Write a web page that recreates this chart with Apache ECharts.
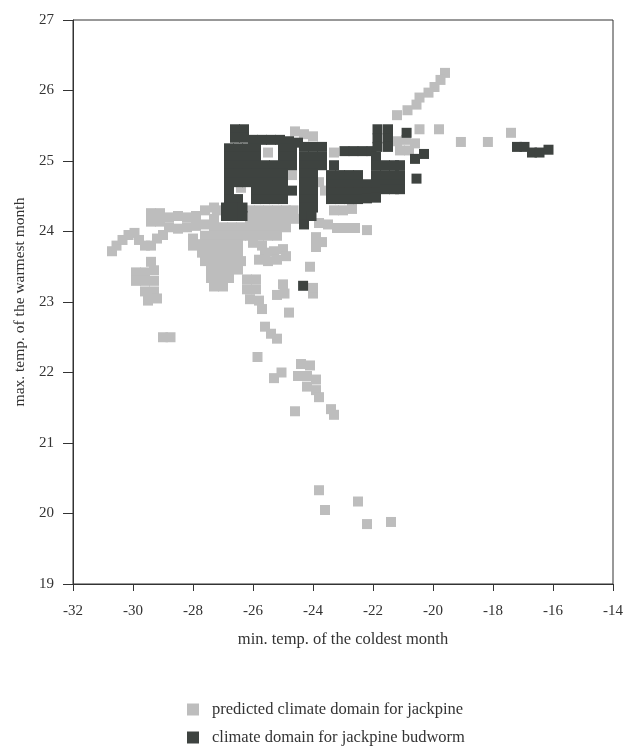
<!DOCTYPE html>
<html>
<head>
<meta charset="utf-8">
<script src="https://cdn.jsdelivr.net/npm/echarts@6/dist/echarts.min.js"></script>
<style>html,body{margin:0;padding:0;background:#fff}#c{width:627px;height:747px}</style>
</head>
<body>
<div id="c"></div>
<script>
const xTicks = [-32,-30,-28,-26,-24,-22,-20,-18,-16,-14];
const yTicks = [19,20,21,22,23,24,25,26,27];
const seriesNames = ['predicted climate domain for jackpine','climate domain for jackpine budworm'];
const xTitle = 'min. temp. of the coldest month';
const yTitle = 'max. temp. of the warmest month';

const lightPts = [
 [-19.6,26.25],[-19.75,26.15],[-19.95,26.05],[-20.15,25.97],[-20.45,25.9],[-20.55,25.8],[-20.85,25.72],[-21.2,25.65],
 [-20.45,25.45],[-19.8,25.45],[-19.07,25.27],[-18.17,25.27],[-17.4,25.4],
 [-21.2,25.28],[-20.9,25.3],[-20.6,25.25],[-21.1,25.15],[-20.8,25.15],
 [-24.6,25.42],[-24.3,25.38],[-24.0,25.35],[-23.3,25.12],
 [-23.8,24.7],[-23.6,24.58],[-24.7,24.8],[-25.5,25.12],[-26.4,24.62],
 [-23.3,24.3],[-23.0,24.3],[-22.7,24.32],
 [-23.8,24.12],[-23.5,24.1],[-23.2,24.05],[-22.9,24.05],[-22.6,24.05],[-22.2,24.02],
 [-23.9,23.92],[-23.7,23.85],[-23.9,23.78],
 [-27.2,24.3],[-26.1,24.3],[-25.8,24.3],[-25.5,24.3],[-25.2,24.3],[-24.9,24.3],[-24.65,24.3],
 [-27.3,24.18],[-26.1,24.18],[-25.8,24.18],[-25.5,24.18],[-25.2,24.18],[-24.9,24.18],[-24.6,24.18],
 [-27.3,24.06],[-27.0,24.06],[-26.7,24.06],[-26.4,24.06],[-26.1,24.06],[-25.8,24.06],[-25.5,24.06],[-25.2,24.06],[-24.9,24.06],
 [-27.6,23.94],[-27.3,23.94],[-27.0,23.94],[-26.7,23.94],[-26.4,23.94],[-26.1,23.94],[-25.8,23.94],[-25.5,23.94],[-25.2,23.94],
 [-29.4,24.26],[-29.1,24.26],[-29.4,24.14],[-29.1,24.14],[-28.8,24.2],[-28.5,24.22],[-28.2,24.2],[-27.9,24.22],
 [-28.8,24.06],[-28.5,24.04],[-28.2,24.06],[-27.9,24.08],[-27.6,24.1],[-27.6,24.3],[-27.3,24.34],
 [-28.0,23.9],[-28.0,23.8],
 [-30.7,23.72],[-30.55,23.8],[-30.35,23.88],[-30.15,23.95],[-29.95,23.98],[-29.8,23.88],[-29.6,23.8],[-29.4,23.8],[-29.2,23.9],[-29.0,23.95],
 [-27.7,23.82],[-27.4,23.82],[-27.1,23.82],[-26.8,23.82],[-26.5,23.82],[-26.0,23.84],[-25.7,23.8],
 [-27.7,23.7],[-27.4,23.7],[-27.1,23.7],[-26.8,23.7],[-26.5,23.7],[-25.6,23.7],[-25.3,23.72],[-25.0,23.75],
 [-27.6,23.58],[-27.3,23.58],[-27.0,23.58],[-26.7,23.58],[-26.4,23.58],[-25.8,23.6],[-25.5,23.58],[-25.2,23.6],[-24.9,23.65],
 [-27.4,23.46],[-27.1,23.46],[-26.8,23.46],[-26.5,23.46],
 [-27.4,23.34],[-27.1,23.34],[-26.8,23.34],[-26.2,23.32],[-25.9,23.32],
 [-27.3,23.22],[-27.0,23.22],[-26.2,23.18],[-25.9,23.18],[-25.0,23.25],[-24.95,23.12],[-25.2,23.1],
 [-26.1,23.04],[-25.8,23.02],[-25.7,22.9],[-24.8,22.85],
 [-29.4,23.57],[-29.9,23.42],[-29.6,23.42],[-29.3,23.45],[-29.9,23.3],[-29.6,23.3],[-29.3,23.3],[-29.6,23.15],[-29.3,23.15],[-29.5,23.02],[-29.2,23.05],
 [-29.0,22.5],[-28.75,22.5],
 [-24.1,23.5],[-24.0,23.12],[-24.0,23.2],
 [-25.6,22.65],[-25.4,22.55],[-25.2,22.48],[-25.85,22.22],[-25.3,21.92],[-25.05,22.0],
 [-24.4,22.12],[-24.1,22.1],[-24.5,21.95],[-24.2,21.95],[-23.9,21.9],[-24.2,21.8],[-23.9,21.75],[-23.8,21.65],
 [-24.6,21.45],[-23.4,21.48],[-23.3,21.4],
 [-23.8,20.33],[-23.6,20.05],[-22.5,20.17],[-22.2,19.85],[-21.4,19.88]
];

const darkPts = [
 [-26.6,25.45],[-26.3,25.45],
 [-26.6,25.33],[-26.3,25.33],[-26.0,25.3],[-25.7,25.3],[-25.4,25.3],[-25.1,25.3],[-24.8,25.28],[-24.5,25.26],
 [-26.8,25.18],[-26.5,25.18],[-26.2,25.18],[-25.9,25.18],[-25.0,25.18],[-24.7,25.18],[-24.3,25.2],[-24.0,25.2],[-23.7,25.2],
 [-26.8,25.06],[-26.5,25.06],[-26.2,25.06],[-25.9,25.06],[-25.0,25.06],[-24.7,25.06],[-24.3,25.06],[-24.0,25.06],[-23.7,25.06],
 [-26.8,24.94],[-26.5,24.94],[-26.2,24.94],[-25.9,24.94],[-25.6,24.94],[-25.3,24.94],[-25.0,24.94],[-24.7,24.94],[-24.3,24.94],[-24.0,24.94],[-23.7,24.94],
 [-26.8,24.82],[-26.5,24.82],[-26.2,24.82],[-25.9,24.82],[-25.6,24.82],[-25.3,24.82],[-25.0,24.82],[-24.3,24.82],[-24.0,24.82],
 [-26.8,24.7],[-26.5,24.7],[-26.2,24.7],[-25.9,24.7],[-25.6,24.7],[-25.3,24.7],[-25.0,24.7],[-24.3,24.7],[-24.0,24.7],
 [-26.8,24.58],[-25.9,24.58],[-25.6,24.58],[-25.3,24.58],[-25.0,24.58],[-24.7,24.58],[-24.3,24.58],[-24.0,24.58],
 [-26.8,24.46],[-26.5,24.46],[-25.9,24.46],[-25.6,24.46],[-25.3,24.46],[-25.0,24.46],[-24.3,24.46],[-24.0,24.46],
 [-26.9,24.34],[-26.6,24.34],[-26.35,24.34],[-24.3,24.34],[-24.0,24.34],
 [-26.9,24.22],[-26.6,24.22],[-26.35,24.22],[-24.3,24.22],[-24.05,24.22],
 [-24.3,24.1],
 [-23.3,24.94],[-22.95,25.14],[-22.65,25.14],[-22.35,25.14],[-22.05,25.14],
 [-21.85,25.45],[-21.5,25.45],[-21.85,25.32],[-21.5,25.32],[-21.85,25.2],[-21.5,25.2],
 [-21.9,25.06],[-21.9,24.94],[-21.6,24.94],[-21.3,24.94],[-21.1,24.94],
 [-23.4,24.8],[-23.1,24.8],[-22.8,24.8],[-22.5,24.8],[-21.9,24.8],[-21.6,24.8],[-21.3,24.8],[-21.1,24.8],
 [-23.4,24.67],[-23.1,24.67],[-22.8,24.67],[-22.5,24.67],[-22.2,24.67],[-21.9,24.67],[-21.6,24.67],[-21.3,24.67],[-21.1,24.67],
 [-23.4,24.55],[-23.1,24.55],[-22.8,24.55],[-22.5,24.55],[-22.2,24.55],[-21.9,24.55],[-21.6,24.6],[-21.3,24.6],[-21.1,24.6],
 [-23.4,24.46],[-23.1,24.46],[-22.8,24.46],[-22.5,24.46],[-22.2,24.47],[-21.9,24.48],
 [-20.88,25.4],[-20.6,25.03],[-20.3,25.1],[-20.55,24.75],
 [-24.33,23.23],
 [-17.2,25.2],[-16.95,25.2],[-16.7,25.12],[-16.45,25.12],[-16.15,25.16]
];

const FONT = '"Liberation Serif", "DejaVu Serif", serif';
const legendText = {fontFamily: FONT, fontSize: 16.5, color: '#333', padding: [0,0,0,8]};
const chart = echarts.init(document.getElementById('c'), null, {renderer:'canvas'});
chart.setOption({
  animation: false,
  backgroundColor: '#fff',
  textStyle: {fontFamily: FONT},
  grid: {left: 73, top: 20, width: 540, height: 564, show: true, borderColor: '#333', borderWidth: 1, backgroundColor: 'transparent'},
  legend: [
    {left: 187, top: 701, itemWidth: 12, itemHeight: 12, padding: 0,
     data: [{name: seriesNames[0], icon: 'rect'}], textStyle: legendText},
    {left: 187, top: 729, itemWidth: 12, itemHeight: 12, padding: 0,
     data: [{name: seriesNames[1], icon: 'rect'}], textStyle: legendText}
  ],
  xAxis: {
    type: 'value', min: xTicks[0], max: xTicks[xTicks.length-1], interval: 2,
    name: xTitle, nameLocation: 'middle', nameGap: 47,
    nameTextStyle: {fontFamily: FONT, fontSize: 16.5, color: '#333'},
    axisLine: {show: true, onZero: false, lineStyle: {color: '#333', width: 1}},
    axisTick: {show: true, length: 7, lineStyle: {color: '#333'}},
    axisLabel: {fontFamily: FONT, fontSize: 15, color: '#333', margin: 20},
    splitLine: {show: false}
  },
  yAxis: {
    type: 'value', min: yTicks[0], max: yTicks[yTicks.length-1], interval: 1,
    name: yTitle, nameLocation: 'middle', nameGap: 44, nameRotate: 90,
    nameTextStyle: {fontFamily: FONT, fontSize: 15.5, color: '#333'},
    axisLine: {show: true, onZero: false, lineStyle: {color: '#333', width: 1}},
    axisTick: {show: true, length: 10, lineStyle: {color: '#333'}},
    axisLabel: {fontFamily: FONT, fontSize: 15, color: '#333', margin: 19},
    splitLine: {show: false}
  },
  series: [
    {name: seriesNames[0], type: 'scatter', symbol: 'rect', symbolSize: 10,
     itemStyle: {color: '#bdbdbd', opacity: 1}, data: lightPts, z: 2},
    {name: seriesNames[1], type: 'scatter', symbol: 'rect', symbolSize: 10,
     itemStyle: {color: '#3e4340', opacity: 1}, data: darkPts, z: 3}
  ]
});
</script>
</body>
</html>
